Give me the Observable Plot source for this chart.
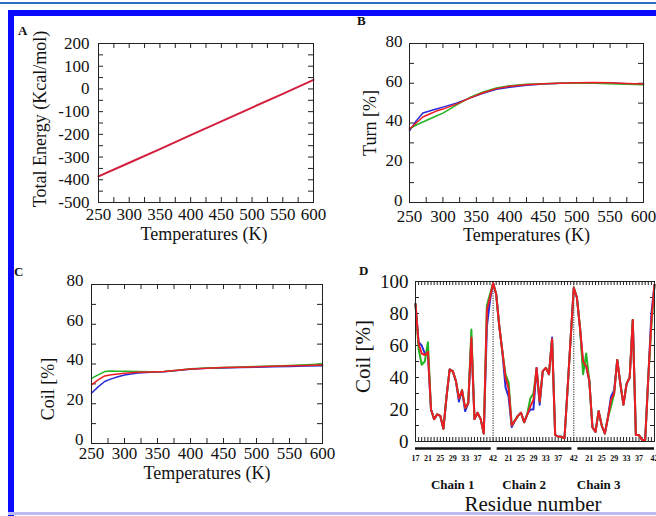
<!DOCTYPE html>
<html><head><meta charset="utf-8">
<script src="https://cdn.jsdelivr.net/npm/d3@7"></script>
<script src="https://cdn.jsdelivr.net/npm/@observablehq/plot@0.6"></script>
<style>
body{margin:0;background:#fff;}
#page{position:relative;width:656px;height:516px;overflow:hidden;background:#fff;font-family:"Liberation Serif",serif;}
.panel{position:absolute;}
.plab{position:absolute;font-weight:bold;font-size:13px;font-family:"Liberation Serif",serif;color:#111;}
.deco{position:absolute;}
</style></head><body><div id="page">
<div class="deco" style="left:0;top:2px;width:656px;height:2px;background:#2f6fc0"></div>
<div class="deco" style="left:8px;top:10px;width:648px;height:6px;background:#0a0aff"></div>
<div class="deco" style="left:8px;top:10px;width:6px;height:506px;background:#0a0aff"></div>
<div class="deco" style="left:8px;top:512px;width:648px;height:3px;background:#bcbcf2"></div>
<div id="pA" class="panel" style="left:0;top:20px"></div>
<div id="pB" class="panel" style="left:330px;top:20px"></div>
<div id="pC" class="panel" style="left:0;top:260px"></div>
<div id="pD" class="panel" style="left:330px;top:260px"></div>
<div class="plab" style="left:18px;top:23px">A</div>
<div class="plab" style="left:357px;top:13px">B</div>
<div class="plab" style="left:14px;top:264px">C</div>
<div class="plab" style="left:359px;top:263px">D</div>
</div>
<script>
// ---------- data ----------
const tempsA = [250, 300, 350, 400, 450, 500, 550, 600];
const energyRed = [-385, -325, -265, -203, -143, -82, -22, 40];

const temps = [250, 260, 270, 280, 290, 300, 320, 340, 360, 380, 400, 425, 450, 475, 500, 525, 550, 575, 600];
const turnBlue  = [36, 41, 45, 46, 47, 48, 50, 52.5, 55, 57, 58, 59, 59.6, 60, 60.2, 60.2, 60.1, 59.8, 59.5];
const turnGreen = [37, 39, 40.5, 42, 43.5, 45, 49, 52.8, 55.6, 57.6, 58.8, 59.5, 59.8, 60, 60, 60, 59.8, 59.5, 59.2];
const turnRed   = [37, 40, 43, 44.5, 46, 47, 49.5, 52.5, 55.2, 57.3, 58.5, 59.3, 59.7, 60, 60.3, 60.4, 60.2, 59.9, 59.6];

const coilBlue  = [25.3, 28.5, 31.2, 32.5, 33.6, 34.5, 35.5, 35.9, 36.1, 36.7, 37.4, 37.8, 38, 38.2, 38.4, 38.6, 38.8, 39, 39.1];
const coilGreen = [32.8, 34.5, 36.2, 36.5, 36.4, 36.3, 36.2, 36.1, 36.2, 36.8, 37.6, 38, 38.3, 38.5, 38.7, 39, 39.3, 39.6, 40];
const coilRed   = [29.5, 32, 34, 34.6, 35, 35.3, 35.8, 36, 36.2, 36.8, 37.5, 37.9, 38.2, 38.4, 38.6, 38.9, 39.1, 39.3, 39.5];

const chains = ["Chain 1", "Chain 2", "Chain 3"];
const residues = d3.range(17, 43);
const residueTicks = [17, 21, 25, 29, 33, 37, 42];
const chainLabelResidue = [29, 26, 24];
const resRed = [
  86, 61, 55, 54, 56, 20, 14, 17, 16, 8, 28, 45, 44, 38, 27, 32, 21, 24, 65, 14, 18, 14, 5, 82, 90, 99,
  92, 72, 56, 40, 33, 10, 13, 16, 18, 12, 17, 22, 26, 46, 25, 44, 46, 42, 64, 4, 3, 3, 2, 33, 65, 96,
  90, 71, 50, 47, 38, 9, 6, 19, 10, 5, 15, 26, 30, 51, 36, 23, 36, 40, 76, 4, 4, 1, 1, 40, 75, 98];
const resBlue = [
  86, 62, 60, 55, 55, 20, 14, 17, 16, 8, 28, 45, 44, 38, 25, 32, 19, 24, 64, 14, 18, 14, 5, 72, 88, 99,
  92, 72, 56, 34, 28, 9, 13, 16, 18, 12, 17, 20, 20, 46, 23, 44, 46, 42, 65, 4, 3, 3, 2, 33, 65, 96,
  90, 71, 48, 47, 38, 9, 6, 19, 10, 5, 15, 28, 32, 51, 36, 23, 36, 40, 76, 4, 4, 1, 1, 40, 80, 98];
const resGreen = [
  86, 58, 48, 50, 62, 20, 14, 17, 16, 8, 28, 45, 44, 38, 27, 32, 21, 24, 70, 14, 18, 14, 5, 85, 92, 99,
  92, 72, 56, 42, 37, 10, 13, 16, 18, 12, 17, 27, 30, 45, 25, 44, 46, 42, 64, 4, 3, 3, 2, 33, 65, 96,
  90, 71, 42, 55, 38, 9, 6, 19, 10, 5, 15, 22, 30, 51, 36, 23, 36, 40, 76, 4, 4, 1, 1, 40, 72, 98];

const C_BLUE = "#2a2ad8", C_GREEN = "#22b422", C_RED = "#ee1c25";

// ---------- helpers ----------
function inwardTicks(xt, yt, len, w, h, opts = {}) {
  const s = {stroke: "#222", strokeWidth: 1, ...opts};
  return [
    Plot.ruleX(xt, {x: d => d, insetTop: h - len, ...s}),
    Plot.ruleX(xt, {x: d => d, insetBottom: h - len, ...s}),
    Plot.ruleY(yt, {y: d => d, insetRight: w - len, ...s}),
    Plot.ruleY(yt, {y: d => d, insetLeft: w - len, ...s})
  ];
}
const plain = d => `${d}`;
const baseStyle = {fontFamily: "Liberation Serif", fontSize: "17px", color: "#111", background: "transparent", overflow: "visible"};
const yTitle = (t, dx, dy, fs) => Plot.text([t], {text: d => d, frameAnchor: "left", dx, dy, rotate: -90, fontSize: fs, textAnchor: "middle", lineAnchor: "middle"});
const xTitle = (t, dx, dy, fs) => Plot.text([t], {text: d => d, frameAnchor: "bottom", dx, dy, fontSize: fs, textAnchor: "middle", lineAnchor: "middle"});

// ---------- Panel A ----------
{
  const W = 330, H = 230, ml = 98, mr = 17, mt = 23, mb = 48;
  const p = Plot.plot({
    width: W, height: H, marginLeft: ml, marginRight: mr, marginTop: mt, marginBottom: mb,
    style: baseStyle,
    x: {domain: [250, 600], ticks: d3.range(250, 601, 50), tickSize: 0, tickPadding: 5, tickFormat: plain, label: null},
    y: {domain: [-500, 200], ticks: d3.range(-500, 201, 100), tickSize: 0, tickPadding: 9, tickFormat: plain, label: null},
    marks: [
      ...inwardTicks(d3.range(250, 601, 25), d3.range(-500, 201, 50), 5, W - ml - mr, H - mt - mb),
      Plot.lineY(energyRed, {x: tempsA, stroke: "#d41e3c", strokeWidth: 2}),
      Plot.frame({stroke: "#222"}),
      yTitle("Total Energy (Kcal/mol)", -58, -4, 18),
      xTitle("Temperatures (K)", -2, 32, 18)
    ]
  });
  document.getElementById("pA").append(p);
}

// ---------- Panel B ----------
{
  const W = 326, H = 230, ml = 79, mr = 13, mt = 23, mb = 48;
  const p = Plot.plot({
    width: W, height: H, marginLeft: ml, marginRight: mr, marginTop: mt, marginBottom: mb,
    style: baseStyle,
    x: {domain: [250, 600], ticks: d3.range(250, 601, 50), tickSize: 0, tickPadding: 7, tickFormat: plain, label: null},
    y: {domain: [0, 80], axis: null},
    marks: [
      ...inwardTicks(d3.range(250, 601, 25), d3.range(0, 81, 10), 5, W - ml - mr, H - mt - mb),
      Plot.lineY(turnBlue, {x: temps, stroke: C_BLUE, strokeWidth: 1.5}),
      Plot.lineY(turnGreen, {x: temps, stroke: C_GREEN, strokeWidth: 1.5}),
      Plot.lineY(turnRed, {x: temps, stroke: C_RED, strokeWidth: 1.5}),
      Plot.frame({stroke: "#222"}),
      Plot.axisY({ticks: d3.range(0, 81, 20), tickSize: 0, tickPadding: 7, tickFormat: plain, dy: -2, label: null}),
      yTitle("Turn [%]", -39, 0, 18),
      xTitle("Temperatures (K)", 0, 33, 18)
    ]
  });
  document.getElementById("pB").append(p);
}

// ---------- Panel C ----------
{
  const W = 330, H = 240, ml = 91, mr = 8, mt = 24, mb = 57;
  const p = Plot.plot({
    width: W, height: H, marginLeft: ml, marginRight: mr, marginTop: mt, marginBottom: mb,
    style: baseStyle,
    x: {domain: [250, 600], ticks: d3.range(250, 601, 50), tickSize: 0, tickPadding: 3, tickFormat: plain, label: null},
    y: {domain: [0, 80], axis: null},
    marks: [
      ...inwardTicks(d3.range(250, 601, 25), d3.range(0, 81, 10), 5, W - ml - mr, H - mt - mb),
      Plot.lineY(coilBlue, {x: temps, stroke: C_BLUE, strokeWidth: 1.5}),
      Plot.lineY(coilGreen, {x: temps, stroke: C_GREEN, strokeWidth: 1.5}),
      Plot.lineY(coilRed, {x: temps, stroke: C_RED, strokeWidth: 1.5}),
      Plot.frame({stroke: "#222"}),
      Plot.axisY({ticks: d3.range(0, 81, 20), tickSize: 0, tickPadding: 8, tickFormat: plain, dy: -4, label: null}),
      yTitle("Coil [%]", -43, 25, 18),
      xTitle("Temperatures (K)", 0, 30, 18)
    ]
  });
  document.getElementById("pC").append(p);
}

// ---------- Panel D ----------
{
  const W = 326, H = 256, ml = 85, mr = 2, mt = 21, mb = 75;
  const n = residues.length;
  const idx = d3.range(chains.length * n);
  const tickIdx = [];
  chains.forEach((c, ci) => residueTicks.forEach(r => { if (ci === 0 || r !== 17) tickIdx.push(ci * n + residues.indexOf(r)); }));
  const bounds = chains.slice(0, -1).map((c, ci) => ci * n + n - 1);
  const bars = chains.map((c, ci) => ({x1: ci * n + (ci ? 0.3 : 0), x2: ci * n + n - 1 - (ci < 2 ? 0.6 : 0)}));
  const chainLab = chains.map((c, ci) => ({label: c, x: ci * n + residues.indexOf(chainLabelResidue[ci])}));
  const p = Plot.plot({
    width: W, height: H, marginLeft: ml, marginRight: mr, marginTop: mt, marginBottom: mb,
    style: baseStyle,
    x: {domain: [0, idx.length - 1], axis: null},
    y: {domain: [0, 100], axis: null},
    marks: [
      ...inwardTicks(idx, d3.range(0, 101, 10), 4, W - ml - mr, H - mt - mb),
      Plot.ruleX(bounds, {x: d => d, stroke: "#222", strokeDasharray: "1.2,1.2"}),
      Plot.lineY(resBlue, {x: idx, stroke: C_BLUE, strokeWidth: 2}),
      Plot.lineY(resGreen, {x: idx, stroke: C_GREEN, strokeWidth: 2}),
      Plot.lineY(resRed, {x: idx, stroke: C_RED, strokeWidth: 2}),
      Plot.frame({stroke: "#222"}),
      Plot.axisY({ticks: d3.range(0, 101, 20), tickSize: 0, tickPadding: 7, tickFormat: plain, fontSize: 19, label: null}),
      Plot.ruleY(bars, {y: 0, x1: "x1", x2: "x2", dy: 7, stroke: "#111", strokeWidth: 2.5}),
      Plot.axisX({ticks: tickIdx, tickFormat: i => residues[i % n], tickSize: 0, tickPadding: 14, fontSize: 8, fontWeight: "bold", fontFamily: "Liberation Serif", label: null}),
      Plot.text(chainLab, {x: "x", text: "label", frameAnchor: "bottom", dy: 43, fontSize: 13, fontWeight: "bold", lineAnchor: "middle"}),
      xTitle("Residue number", -2, 63, 21),
      yTitle("Coil [%]", -52, -5, 21)
    ]
  });
  document.getElementById("pD").append(p);
}
</script></body></html>
